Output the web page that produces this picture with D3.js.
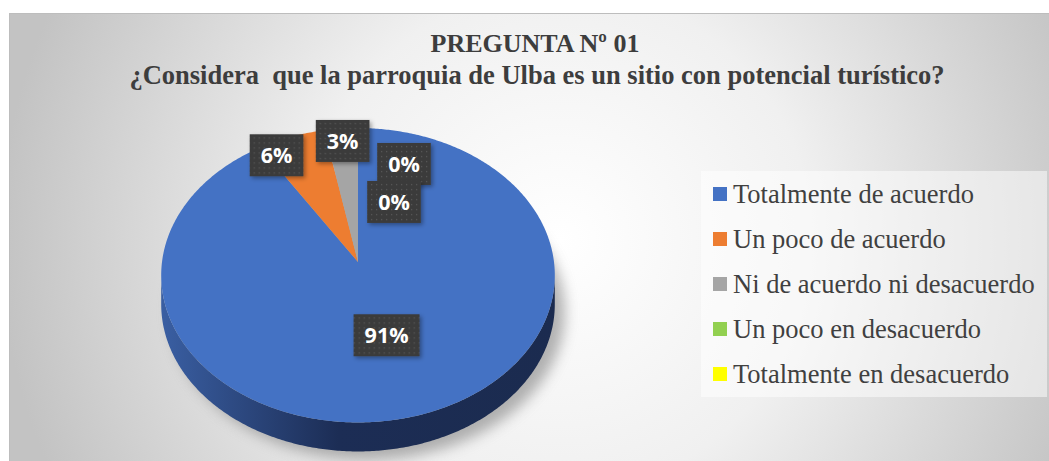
<!DOCTYPE html>
<html>
<head>
<meta charset="utf-8">
<script src="https://cdn.jsdelivr.net/npm/d3@7"></script>
<style>
  html, body { margin: 0; padding: 0; background: #fff; }
  svg { display: block; }
</style>
</head>
<body>
<div id="chart"></div>
<script>
// data
const categories = ["Totalmente de acuerdo", "Un poco de acuerdo", "Ni de acuerdo ni desacuerdo", "Un poco en desacuerdo", "Totalmente en desacuerdo"];
const percentages = [91, 6, 3, 0, 0];
const sliceColors = ["#4472c4", "#ed7d31", "#a5a5a5", "#92d050", "#ffff00"];
const titleLines = ["PREGUNTA Nº 01", "¿Considera  que la parroquia de Ulba es un sitio con potencial turístico?"];

const w = 1049;
const h = 461;

const svg = d3.select("#chart").append("svg")
      .attr("width", w)
      .attr("height", h);

const defs = svg.append("defs");

// background gradient of the chart area
const bg = defs.append("radialGradient")
      .attr("id", "bgGrad")
      .attr("gradientUnits", "userSpaceOnUse")
      .attr("cx", 560).attr("cy", 240).attr("r", 560);
bg.append("stop").attr("offset", "0%").attr("stop-color", "#ffffff");
bg.append("stop").attr("offset", "45%").attr("stop-color", "#f0f0f0");
bg.append("stop").attr("offset", "100%").attr("stop-color", "#c3c3c3");

// side of the pie
const side = defs.append("linearGradient")
      .attr("id", "sideGrad")
      .attr("gradientUnits", "userSpaceOnUse")
      .attr("x1", 160).attr("x2", 556).attr("y1", 0).attr("y2", 0);
side.append("stop").attr("offset", "0%").attr("stop-color", "#3a5fa3");
side.append("stop").attr("offset", "45%").attr("stop-color", "#1c2d55");
side.append("stop").attr("offset", "100%").attr("stop-color", "#1b2b4f");

// dotted label box
const pat = defs.append("pattern")
      .attr("id", "dots")
      .attr("patternUnits", "userSpaceOnUse")
      .attr("width", 5).attr("height", 5);
pat.append("rect").attr("width", 5).attr("height", 5).attr("fill", "#3b3b3b");
pat.append("rect").attr("x", 2).attr("y", 2).attr("width", 1.3).attr("height", 1.3).attr("fill", "#555555");

const blur = defs.append("filter").attr("id", "blur")
      .attr("x", "-20%").attr("y", "-20%").attr("width", "140%").attr("height", "140%");
blur.append("feGaussianBlur").attr("stdDeviation", 7);

const boxShadow = defs.append("filter").attr("id", "boxShadow")
      .attr("x", "-30%").attr("y", "-30%").attr("width", "160%").attr("height", "160%");
boxShadow.append("feDropShadow")
      .attr("dx", 2).attr("dy", 2).attr("stdDeviation", 2)
      .attr("flood-color", "#000").attr("flood-opacity", 0.35);

// chart area
svg.append("rect")
      .attr("x", 9.5).attr("y", 13.5)
      .attr("width", w - 9).attr("height", h - 13)
      .attr("fill", "url(#bgGrad)")
      .attr("stroke", "#bdbdbd");

// title
const title = svg.append("text")
      .attr("text-anchor", "middle")
      .style("font-family", "'Liberation Serif', 'Times New Roman', serif")
      .style("font-weight", "bold")
      .style("white-space", "pre")
      .attr("fill", "#3d3d3d");
title.append("tspan").attr("x", 535).attr("y", 52).style("font-size", "26px").text(titleLines[0]);
title.append("tspan").attr("x", 537).attr("y", 84).style("font-size", "26.5px").text(titleLines[1]);

// 3D pie with a little perspective
const cx = 358, cy = 262, A = 196, B = 146, P = 0.09, depth = 29;
function proj (theta, r) {
    const X = r * Math.sin(theta), Z = r * Math.cos(theta), k = 1 + P * Z;
    return [cx + A * X / k, cy - B * Z / k];
}
function rim (a0, a1, dy) {
    const pts = [];
    const n = Math.max(2, Math.ceil((a1 - a0) / 0.01));
    for (let i = 0; i <= n; i++) {
        const p = proj(a0 + (a1 - a0) * i / n, 1);
        pts.push([p[0], p[1] + dy]);
    }
    return pts;
}

const pie = d3.pie().sort(null).startAngle(0).endAngle(2 * Math.PI);
const arcs = pie(percentages);

// shadow
const shadowPts = rim(0, 2 * Math.PI, 0).map(p => [p[0] + 10, p[1] + depth + 8]);
svg.append("path")
      .attr("d", d3.line()(shadowPts) + "Z")
      .attr("fill", "#808080")
      .attr("opacity", 0.6)
      .attr("filter", "url(#blur)");

// visible front side
const sideA0 = Math.PI / 2 + Math.asin(P);
const sideA1 = 3 * Math.PI / 2 - Math.asin(P);
arcs.forEach((d) => {
    const s0 = Math.max(d.startAngle, sideA0), s1 = Math.min(d.endAngle, sideA1);
    if (s1 <= s0) return;
    const top = rim(s0, s1, 0);
    const bottom = rim(s0, s1, depth).reverse();
    svg.append("path")
          .attr("d", d3.line()(top.concat(bottom)) + "Z")
          .attr("fill", d.index === 0 ? "url(#sideGrad)" : d3.color(sliceColors[d.index]).darker(1.2));
});

// top faces
svg.selectAll("path.slice")
      .data(arcs.filter(d => d.value > 0))
      .enter()
      .append("path")
      .attr("class", "slice")
      .attr("d", (d) => d3.line()([[cx, cy]].concat(rim(d.startAngle, d.endAngle, 0))) + "Z")
      .attr("fill", (d) => sliceColors[d.index]);

// data labels
const total = d3.sum(percentages);
const placed = [];
function makeLabel (d) {
    const g = svg.append("g");
    const box = g.append("rect").attr("fill", "url(#dots)").attr("filter", "url(#boxShadow)");
    const t = g.append("text")
          .attr("text-anchor", "middle")
          .attr("dy", "0.36em")
          .style("font-family", "'Open Sans', 'Noto Sans', sans-serif")
          .style("font-weight", "bold")
          .style("font-size", "21.5px")
          .attr("fill", "#ffffff")
          .text(d.value + "%");
    const tw = t.node().getComputedTextLength() + 22;
    box.attr("x", -tw / 2).attr("y", -21).attr("width", tw).attr("height", 42);
    return {g, tw};
}
function overlaps (x, y, bw) {
    return placed.some(p => Math.abs(p.x - x) < (p.w + bw) / 2 + 12 && Math.abs(p.y - y) < 42);
}
// big slice first, then the small ones from the end backwards, zeros stacked
let zeroCount = 0;
const order = arcs.filter(d => d.value / total > 0.5)
      .concat(arcs.filter(d => d.value > 0 && d.value / total <= 0.5).reverse());
order.forEach((d) => {
    const lab = makeLabel(d);
    let mid = (d.startAngle + d.endAngle) / 2;
    let pos;
    if (d.value / total > 0.5) {
        pos = proj(mid, 0.5);
    } else {
        pos = proj(mid, 0.9);
        while (overlaps(pos[0], pos[1], lab.tw)) {
            mid -= 0.005;
            pos = proj(mid, 0.9);
        }
    }
    placed.push({x: pos[0], y: pos[1], w: lab.tw});
    lab.g.attr("transform", `translate(${pos[0]},${pos[1]})`);
});
arcs.filter(d => d.value === 0).forEach((d) => {
    const lab = makeLabel(d);
    const base = proj(0, 0.92);
    const pos = [base[0] + 46 - 10 * zeroCount, base[1] + 26 + 38 * zeroCount];
    zeroCount++;
    lab.g.attr("transform", `translate(${pos[0]},${pos[1]})`);
});

// legend
const legend = svg.append("g");
legend.append("rect")
      .attr("x", 701).attr("y", 171)
      .attr("width", 346).attr("height", 226)
      .attr("fill", "#ffffff")
      .attr("opacity", 0.5);

const items = legend.selectAll("g.item")
      .data(categories)
      .enter()
      .append("g")
      .attr("class", "item")
      .attr("transform", (d, i) => `translate(713,${194 + i * 45})`);
items.append("rect")
      .attr("x", 0).attr("y", -7)
      .attr("width", 14).attr("height", 14)
      .attr("fill", (d, i) => sliceColors[i]);
items.append("text")
      .attr("x", 20)
      .attr("dy", "0.33em")
      .style("font-family", "'Liberation Serif', 'Times New Roman', serif")
      .style("font-size", "26.5px")
      .attr("fill", "#404040")
      .text((d) => d);
</script>
</body>
</html>
